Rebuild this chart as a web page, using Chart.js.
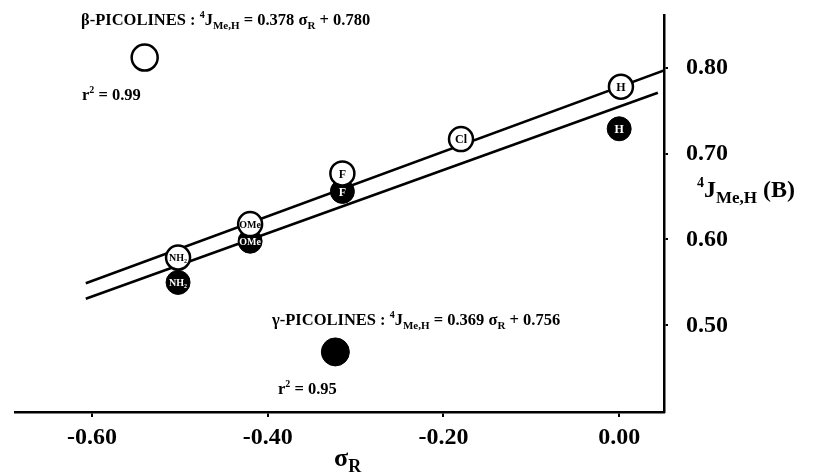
<!DOCTYPE html>
<html lang="en">
<head>
<meta charset="UTF-8">
<title>Picolines 4J vs sigma R</title>
<script src="https://cdn.jsdelivr.net/npm/chart.js"></script>
<style>
  body { margin: 0; background: #fff; }
  #wrap { width: 816px; height: 475px; position: relative; }
</style>
</head>
<body>
<div id="wrap"><canvas id="chart"></canvas></div>
<script>
// beta-picolines (open circles)
const betaSubst = ['NH\u2082', 'OMe', 'F', 'Cl', 'H'];
const betaSigma = [-0.502, -0.420, -0.315, -0.180, 0.002];
const betaJ = [0.579, 0.618, 0.677, 0.717, 0.778];

// gamma-picolines (filled circles)
const gammaSubst = ['NH\u2082', 'OMe', 'F', 'H'];
const gammaSigma = [-0.502, -0.420, -0.315, 0.000];
const gammaJ = [0.550, 0.598, 0.656, 0.729];

// regression lines, end points
const betaLineX = [-0.607, 0.051];
const betaLineY = [0.549, 0.797];
const gammaLineX = [-0.607, 0.044];
const gammaLineY = [0.531, 0.771];

// key symbols next to the equations
const betaKey = { x: -0.540, y: 0.812 };
const gammaKey = { x: -0.323, y: 0.469 };

const xTicks = [-0.60, -0.40, -0.20, 0.00];
const yTicks = [0.50, 0.60, 0.70, 0.80];

const SERIF = "'Liberation Serif', 'DejaVu Serif', serif";

function pts(xs, ys) {
    return xs.map((x, i) => ({ x: x, y: ys[i] }));
}

// draws a list of runs [text, size, dy] one after another
function drawRuns(ctx, x, y, runs) {
    runs.forEach(([t, size, dy]) => {
        ctx.font = `bold ${size}px ${SERIF}`;
        ctx.fillText(t, x, y + (dy || 0));
        x += ctx.measureText(t).width;
    });
}

const pointLabels = {
    id: 'pointLabels',
    afterDatasetDraw(chart, args) {
        const ds = chart.data.datasets[args.index];
        if (!ds.subst) return;
        const ctx = chart.ctx;
        ctx.save();
        ctx.fillStyle = ds.textColor;
        ctx.textAlign = 'center';
        ctx.textBaseline = 'middle';
        args.meta.data.forEach((el, i) => {
            const s = ds.subst[i];
            const size = s.length > 2 ? 10 : 12;
            ctx.font = `bold ${size}px ${SERIF}`;
            ctx.fillText(s, el.x, el.y + 1);
        });
        ctx.restore();
    }
};

const annotations = {
    id: 'annotations',
    afterDraw(chart) {
        const ctx = chart.ctx;
        ctx.save();
        ctx.fillStyle = '#000';
        ctx.textBaseline = 'alphabetic';
        ctx.textAlign = 'left';
        drawRuns(ctx, 81, 25, [
            ['\u03b2-PICOLINES : ', 16.5], ['4', 10, -7], ['J', 16.5], ['Me,H', 11, 4],
            [' = 0.378 \u03c3', 16.5], ['R', 11, 4], [' + 0.780', 16.5]
        ]);
        drawRuns(ctx, 82, 100, [['r', 16.5], ['2', 10, -7], [' = 0.99', 16.5]]);
        drawRuns(ctx, 272, 325, [
            ['\u03b3-PICOLINES : ', 16.5], ['4', 10, -7], ['J', 16.5], ['Me,H', 11, 4],
            [' = 0.369 \u03c3', 16.5], ['R', 11, 4], [' + 0.756', 16.5]
        ]);
        drawRuns(ctx, 278, 394, [['r', 16.5], ['2', 10, -7], [' = 0.95', 16.5]]);
        // y axis title, horizontal to the right of the ticks
        drawRuns(ctx, 697, 197, [['4', 14, -10], ['J', 24], ['Me,H', 17, 6], [' (B)', 24]]);
        // x axis title
        drawRuns(ctx, 334, 466, [['\u03c3', 26], ['R', 18, 6]]);
        ctx.restore();
    }
};

new Chart(document.getElementById('chart'), {
    type: 'scatter',
    data: {
        datasets: [
            {
                data: pts(betaSigma, betaJ),
                subst: betaSubst,
                textColor: '#000',
                pointRadius: 12,
                pointBackgroundColor: '#fff',
                pointBorderColor: '#000',
                pointBorderWidth: 2.5,
                order: 0
            },
            {
                data: pts(gammaSigma, gammaJ),
                subst: gammaSubst,
                textColor: '#fff',
                pointRadius: 12,
                pointBackgroundColor: '#000',
                pointBorderColor: '#000',
                pointBorderWidth: 1,
                order: 1
            },
            {
                type: 'line',
                data: pts(betaLineX, betaLineY),
                borderColor: '#000',
                borderWidth: 2.5,
                pointRadius: 0,
                order: 2
            },
            {
                type: 'line',
                data: pts(gammaLineX, gammaLineY),
                borderColor: '#000',
                borderWidth: 2.5,
                pointRadius: 0,
                order: 2
            },
            {
                data: [betaKey],
                pointRadius: 13,
                pointBackgroundColor: '#fff',
                pointBorderColor: '#000',
                pointBorderWidth: 2.5,
                order: 0
            },
            {
                data: [gammaKey],
                pointRadius: 14,
                pointBackgroundColor: '#000',
                pointBorderColor: '#000',
                order: 0
            }
        ]
    },
    options: {
        responsive: true,
        maintainAspectRatio: false,
        animation: false,
        layout: { padding: { left: 11, top: 13, right: 0, bottom: 0 } },
        plugins: {
            legend: { display: false },
            tooltip: { enabled: false }
        },
        scales: {
            x: {
                type: 'linear',
                position: 'bottom',
                min: -0.687,
                max: 0.051,
                border: { color: '#000', width: 2.5 },
                grid: { drawOnChartArea: false, drawTicks: true, tickLength: 5, color: '#000', lineWidth: 2 },
                ticks: {
                    color: '#000',
                    padding: 6,
                    maxRotation: 0,
                    font: { family: SERIF, size: 24, weight: 'bold' },
                    callback: v => v.toFixed(2)
                },
                afterBuildTicks: s => { s.ticks = xTicks.map(v => ({ value: v })); },
                afterFit: s => {
                    s.height = 63;
                    s.paddingLeft = 0;
                    s.paddingRight = 0;
                }
            },
            y: {
                type: 'linear',
                position: 'right',
                min: 0.399,
                max: 0.861,
                border: { color: '#000', width: 2.5 },
                grid: { drawOnChartArea: false, drawTicks: true, tickLength: 4, color: '#000', lineWidth: 2 },
                ticks: {
                    color: '#000',
                    padding: 18,
                    font: { family: SERIF, size: 24, weight: 'bold' },
                    callback: v => v.toFixed(2)
                },
                afterBuildTicks: s => { s.ticks = yTicks.map(v => ({ value: v })); },
                afterFit: s => {
                    s.width = 152;
                    s.paddingTop = 0;
                    s.paddingBottom = 0;
                }
            }
        }
    },
    plugins: [pointLabels, annotations]
});
</script>
</body>
</html>
